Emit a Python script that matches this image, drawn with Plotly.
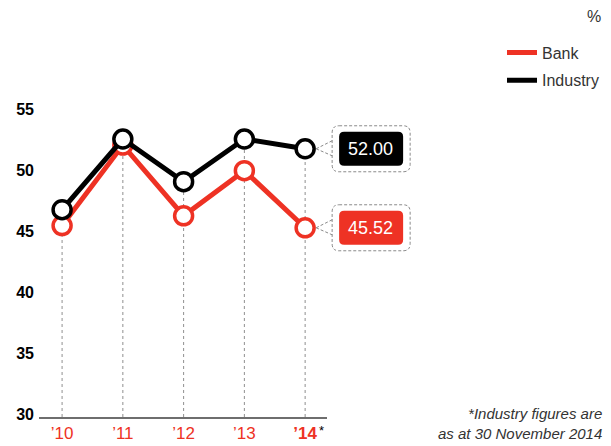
import plotly.graph_objects as go

# ---------------- data ----------------
years = ["’10", "’11", "’12", "’13", "’14"]
bank = [45.7, 52.3, 46.5, 50.2, 45.52]
industry = [47.0, 52.8, 49.3, 52.8, 52.00]
y_ticks = [30, 35, 40, 45, 50, 55]
series_names = ["Bank", "Industry"]

RED = "#EE3224"
BLACK = "#000000"
FONT = "Liberation Sans"

xs = list(range(len(years)))
XR = [-0.38, 4.36]
YR = [30, 56]

fig = go.Figure()

# dashed drop lines from the highest point of each year to the axis
dx, dy = [], []
for i, (b, n) in enumerate(zip(bank, industry)):
    dx += [xs[i], xs[i], None]
    dy += [YR[0], max(b, n), None]
fig.add_trace(go.Scatter(
    x=dx, y=dy, mode="lines",
    line=dict(color="#8f8f8f", width=1, dash="3px,3px"),
    showlegend=False, hoverinfo="skip"))

for name, vals, col in [(series_names[0], bank, RED), (series_names[1], industry, BLACK)]:
    fig.add_trace(go.Scatter(
        x=xs, y=vals, mode="lines+markers", name=name,
        line=dict(color=col, width=5),
        marker=dict(size=18, color="white", line=dict(color=col, width=3.5)),
        cliponaxis=False, showlegend=False))
    # legend entry (line sample only)
    fig.add_trace(go.Scatter(
        x=[None], y=[None], mode="lines", name=name, legendgroup=name,
        line=dict(color=col, width=5), showlegend=True))

# ---------------- value call-outs for the last year ----------------
x_last_paper = (xs[-1] - XR[0]) / (XR[1] - XR[0])


def rrect(x0, y0, x1, y1, r):
    # screen coords (y down) -> plotly pixel path (y up)
    Y = lambda v: -v
    return (f"M {x0 + r},{Y(y0)} L {x1 - r},{Y(y0)} Q {x1},{Y(y0)} {x1},{Y(y0 + r)} "
            f"L {x1},{Y(y1 - r)} Q {x1},{Y(y1)} {x1 - r},{Y(y1)} "
            f"L {x0 + r},{Y(y1)} Q {x0},{Y(y1)} {x0},{Y(y1 - r)} "
            f"L {x0},{Y(y0 + r)} Q {x0},{Y(y0)} {x0 + r},{Y(y0)} Z")


shapes = []
annotations = []
for vals, col in [(industry, BLACK), (bank, RED)]:
    v = vals[-1]
    common = dict(xref="paper", yref="y", xsizemode="pixel", ysizemode="pixel",
                  xanchor=x_last_paper, yanchor=v, type="path")
    shapes.append(dict(path=rrect(27, -23, 105, 23, 7),
                       line=dict(color="#8a8a8a", width=1, dash="3px,2px"),
                       fillcolor="rgba(0,0,0,0)", **common))
    shapes.append(dict(path="M 11,0 L 27,8 M 11,0 L 27,-7",
                       line=dict(color="#8a8a8a", width=1, dash="3px,2px"), **common))
    shapes.append(dict(path=rrect(34, -17, 98, 17, 5),
                       line=dict(width=0), fillcolor=col, **common))
    annotations.append(dict(xref="paper", yref="y", x=x_last_paper, y=v,
                            xshift=65, yshift=0, text=f"{v:.2f}", showarrow=False,
                            font=dict(family=FONT, size=18, color="white"),
                            xanchor="center", yanchor="middle"))

# asterisk next to the last year
annotations.append(dict(xref="x", yref="y", x=xs[-1], y=YR[0], xshift=16, yshift=-13,
                        text="*", showarrow=False,
                        font=dict(family=FONT, size=13, color="black")))
# unit
annotations.append(dict(xref="paper", yref="paper", x=(603 - 39) / 288, y=(417.7 - 17) / 317.2,
                        text="%", showarrow=False, xanchor="right", yanchor="middle",
                        font=dict(family=FONT, size=16, color="#333333")))
# footnote
annotations.append(dict(xref="paper", yref="paper", x=(604 - 39) / 288, y=(417.7 - 424) / 317.2,
                        text="<i>*Industry figures are<br>as at 30 November 2014</i>",
                        showarrow=False, xanchor="right", yanchor="middle", align="right",
                        font=dict(family=FONT, size=15, color="#333333")))

ticktext = years[:-1] + [f"<b>{years[-1]}</b>"]

# the page adds an 8px body margin, so the figure is 8px smaller on each axis
fig.update_layout(
    width=603, height=438,
    margin=dict(l=31, r=284, t=92, b=29, autoexpand=False),
    paper_bgcolor="white", plot_bgcolor="white",
    font=dict(family=FONT),
    showlegend=True,
    legend=dict(x=(502 - 39) / 288, y=(417.7 - 36) / 317.2, xanchor="left", yanchor="top",
                font=dict(family=FONT, size=16, color="#333333"),
                bgcolor="rgba(0,0,0,0)", tracegroupgap=4, itemwidth=30,
                traceorder="grouped"),
    xaxis=dict(range=XR, tickvals=xs, ticktext=ticktext, showgrid=False, zeroline=False,
               showline=True, linecolor="#6e6e6e", linewidth=2, ticks="",
               tickfont=dict(family=FONT, size=17, color=RED), fixedrange=True),
    yaxis=dict(range=YR, tickvals=y_ticks, showgrid=False, zeroline=False, showline=False,
               ticks="", ticklabelstandoff=4, ticklabelshift=-3,
               tickfont=dict(family=FONT, size=16, color="black", weight="bold"), fixedrange=True),
    shapes=shapes,
    annotations=annotations,
)

fig.write_html("out.html")
